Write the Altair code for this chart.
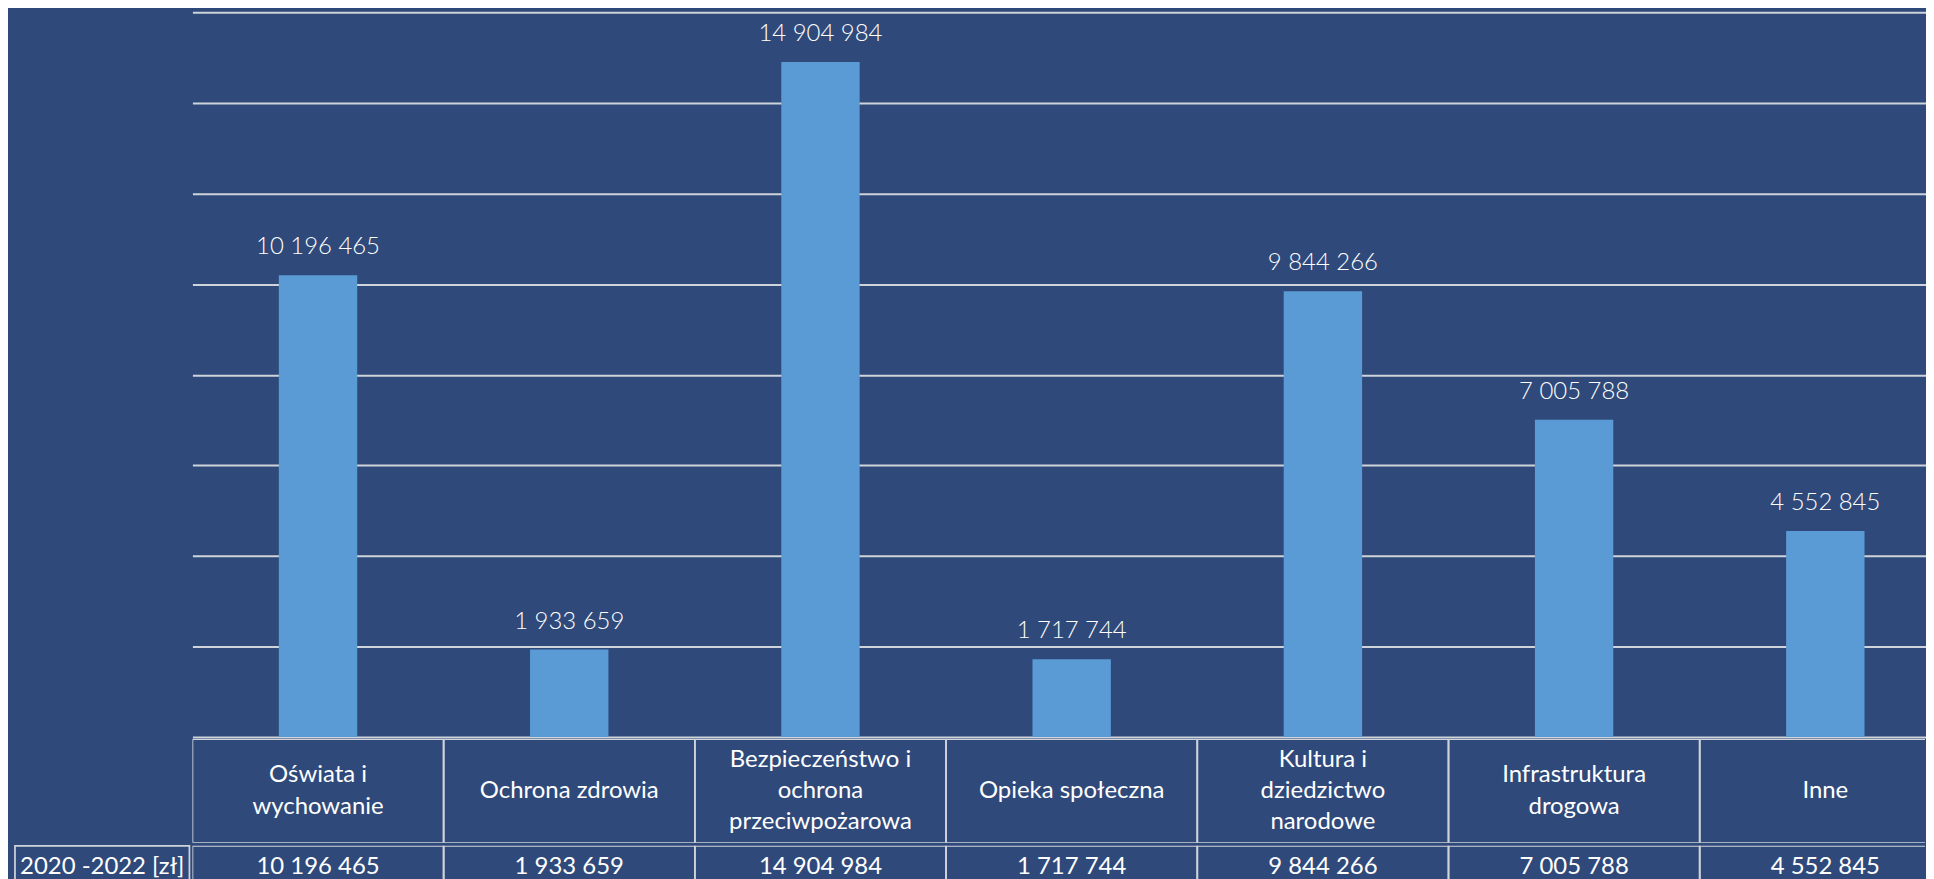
import altair as alt
import pandas as pd

# ---- data ----
categories = [
    "Oświata i wychowanie",
    "Ochrona zdrowia",
    "Bezpieczeństwo i ochrona przeciwpożarowa",
    "Opieka społeczna",
    "Kultura i dziedzictwo narodowe",
    "Infrastruktura drogowa",
    "Inne",
]
header_labels = [
    "Oświata i\nwychowanie",
    "Ochrona zdrowia",
    "Bezpieczeństwo i\nochrona\nprzeciwpożarowa",
    "Opieka społeczna",
    "Kultura i\ndziedzictwo\nnarodowe",
    "Infrastruktura\ndrogowa",
    "Inne",
]
values = [10196465, 1933659, 14904984, 1717744, 9844266, 7005788, 4552845]
row_label = "2020 -2022 [zł]"
grid_values = [0, 2000000, 4000000, 6000000, 8000000, 10000000, 12000000, 14000000, 16000000]
y_max = 16000000

# ---- styling / layout ----
BG = "#2f4a7a"
BAR = "#5b9bd5"
LINE = "#cfd3da"
FONT = "Lato"
BAND_SPAN = 1764      # 7 columns of 252 px (last one runs past the page edge)
VIEW_W = 1738         # visible part of the plot area
HEAD_H = 104
ROW_H = 42
LINE_H = 31.5

df = pd.DataFrame({"cat": categories, "value": values})
df["lbl"] = df["value"].map(lambda v: f"{v:,}".replace(",", " "))
df["pos"] = 0.0
rl_df = pd.DataFrame({"row": [row_label], "pos": [0.0]})

# header lines, one row per text line, centred vertically through a y scale
hdr_rows = []
for cat, lab in zip(categories, header_labels):
    parts = lab.split("\n")
    n = len(parts)
    for i, p in enumerate(parts):
        hdr_rows.append({"cat": cat, "line": p, "pos": (n - 1) / 2 - i})
hdr_df = pd.DataFrame(hdr_rows)

x_scale = alt.Scale(paddingInner=0, paddingOuter=0, range=[0, BAND_SPAN])
x_enc = alt.X("cat:N", sort=categories, axis=None, scale=x_scale)

bars = alt.Chart(df).mark_bar(color=BAR, width=alt.RelativeBandSize(0.312)).encode(
    x=x_enc,
    y=alt.Y(
        "value:Q",
        scale=alt.Scale(domain=[0, y_max], nice=False),
        axis=alt.Axis(
            values=grid_values,
            grid=True,
            gridColor=LINE,
            gridWidth=2,
            labels=False,
            ticks=False,
            domain=False,
            title=None,
            minExtent=0,
            maxExtent=0,
        ),
    ),
)
bar_labels = alt.Chart(df).mark_text(
    dy=-28, baseline="middle", font=FONT, fontSize=24, fontWeight=300, color="white"
).encode(x=x_enc, y=alt.Y("value:Q"), text="lbl:N")

top = alt.layer(bars, bar_labels).properties(width=VIEW_W, height=727)

cell = alt.Chart(df).mark_rect(
    fill=BG, fillOpacity=0, stroke=LINE, strokeWidth=1.75, clip=True
).encode(x=x_enc)

half = HEAD_H / 2 / LINE_H
header_text = alt.Chart(hdr_df).mark_text(
    font=FONT, fontSize=24, fontWeight=400, color="white", baseline="middle"
).encode(
    x=x_enc,
    y=alt.Y("pos:Q", axis=None, scale=alt.Scale(domain=[-half, half], nice=False, zero=False)),
    text="line:N",
)
header = alt.layer(cell, header_text).properties(width=VIEW_W, height=HEAD_H)

row_half = ROW_H / 2 / LINE_H
value_text = alt.Chart(df).mark_text(
    font=FONT, fontSize=24, fontWeight=400, color="white", baseline="middle"
).encode(
    x=x_enc,
    y=alt.Y("pos:Q", axis=None, scale=alt.Scale(domain=[-row_half, row_half], nice=False, zero=False)),
    text="lbl:N",
)
value_row = alt.layer(cell, value_text).properties(width=VIEW_W, height=ROW_H)

rl_cell = alt.Chart(rl_df).mark_rect(
    fill=BG, fillOpacity=0, stroke=LINE, strokeWidth=1.75
).encode(x=alt.X("row:N", axis=None, scale=alt.Scale(paddingInner=0, paddingOuter=0)))
rl_text = alt.Chart(rl_df).mark_text(
    font=FONT, fontSize=24, fontWeight=400, color="white", baseline="middle"
).encode(
    y=alt.Y("pos:Q", axis=None, scale=alt.Scale(domain=[-row_half, row_half], nice=False, zero=False)),
    text="row:N",
)
row_head = alt.layer(rl_cell, rl_text).properties(width=175, height=ROW_H)

spacer_top = alt.Chart(rl_df).mark_point(opacity=0).properties(width=175, height=727)
spacer_mid = alt.Chart(rl_df).mark_point(opacity=0).properties(width=175, height=HEAD_H)

chart = (
    alt.concat(
        spacer_top, top,
        spacer_mid, header,
        row_head, value_row,
        columns=2,
        spacing=0,
    )
    .resolve_scale(x="independent", y="independent")
    .properties(
        padding={"left": 5, "top": 2, "right": 0, "bottom": 0},
        background=BG,
    )
    .configure_view(stroke="transparent")
)

chart.save("out.html", embed_options={"renderer": "svg", "actions": False})
